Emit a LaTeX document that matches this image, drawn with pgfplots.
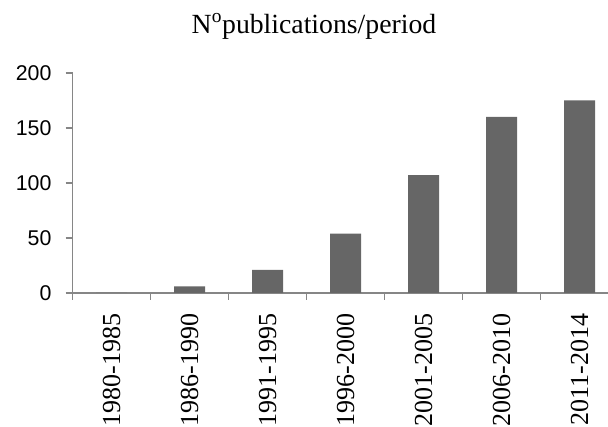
\documentclass[border=0pt]{standalone}
\usepackage{fontspec}
\setmainfont{Liberation Serif}
\setsansfont{Liberation Sans}
\usepackage{pgfplots}
\pgfplotsset{compat=1.18}
\definecolor{axisgray}{RGB}{134,134,134}
\definecolor{bargray}{RGB}{102,102,102}
\begin{document}
\begin{tikzpicture}
\begin{axis}[
  at={(0,0)}, anchor=south west,
  scale only axis,
  width=409.5pt, height=165.2pt,
  xmin=-0.5, xmax=6.5,
  ymin=0, ymax=200,
  axis x line*=bottom, axis y line*=left,
  axis line style={axisgray, line width=1.2pt, -},
  ytick={0,50,100,150,200},
  xtick={0,1,2,3,4,5,6},
  xticklabels={1980-1985,1986-1990,1991-1995,1996-2000,2001-2005,2006-2010,2011-2014},
  minor xtick={-0.5,0.5,1.5,2.5,3.5,4.5,5.5,6.5},
  tick align=outside,
  major tick length=5.25pt,
  minor tick length=5.25pt,
  major x tick style={draw=none},
  every tick/.style={axisgray, line width=1.2pt},
  minor x tick style={axisgray, line width=1.2pt},
  major y tick style={axisgray, line width=1.2pt},
  yticklabel style={font=\sffamily\fontsize{16}{18}\selectfont, inner sep=0pt, anchor=east, xshift=-10.5pt},
  xticklabel style={font=\rmfamily\fontsize{19.5}{22}\selectfont, yshift=-10pt, rotate=90, anchor=east, inner sep=0pt},
  title={N\textsuperscript{o}publications/period},
  title style={font=\rmfamily\fontsize{20.8}{23}\selectfont, at={(axis description cs:0.442,1.144)}, anchor=base, inner sep=0pt},
  clip=false,
  /pgf/number format/assume math mode=true,
]
\addplot[ybar, bar width=23.25pt, fill=bargray, draw=none] coordinates {
  (0,0) (1,6) (2,21) (3,54) (4,107) (5,160) (6,175)
};
\end{axis}
\pgfresetboundingbox
\useasboundingbox (-54.5pt,-100.5pt) rectangle (401.5pt,219.75pt);
\end{tikzpicture}
\end{document}
